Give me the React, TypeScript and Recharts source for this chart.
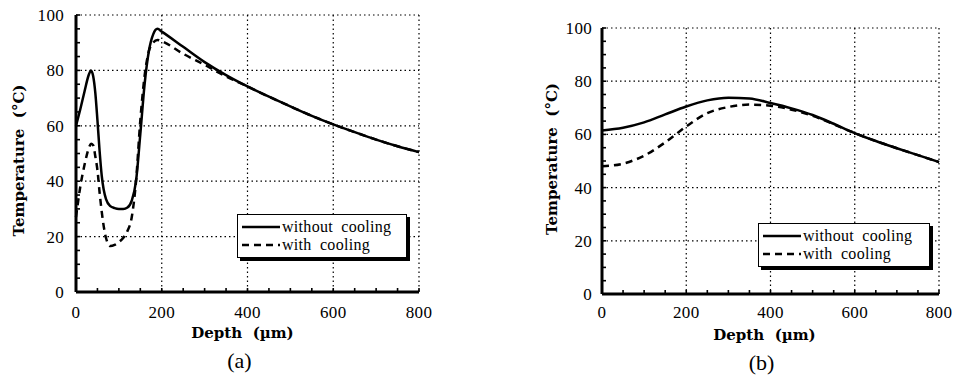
import React from 'react';
import { LineChart, Line, XAxis, YAxis, CartesianGrid, Legend, Label } from 'recharts';

// panel (a)
const aDepth = [0, 10, 20, 30, 35, 40, 45, 50, 55, 60, 70, 80, 90, 100, 110, 120, 130, 140, 150, 160, 170, 180, 190, 200, 250, 300, 350, 400, 450, 500, 550, 600, 650, 700, 750, 800];
const aWithout = [60, 66, 72.5, 78.5, 80, 78, 72, 62, 51, 42, 33.5, 31, 30.3, 30, 30, 30.5, 33, 40, 57, 75, 87, 93, 95, 94, 88.5, 83, 78.3, 74.2, 70.5, 67, 63.6, 60.5, 57.7, 55, 52.6, 50.5];
const aWith = [27, 38, 46, 52, 53.5, 53, 49, 44, 36, 29, 19.5, 16.6, 17, 18, 19.5, 22, 27, 40, 62, 78, 87, 90, 91, 90.5, 86, 82, 77.8, 74.2, 70.5, 67, 63.6, 60.5, 57.7, 55, 52.6, 50.5];

// panel (b)
const bDepth = [0, 50, 100, 150, 200, 250, 300, 350, 400, 450, 500, 550, 600, 650, 700, 750, 800];
const bWithout = [61.5, 62.5, 64.5, 67.5, 70.5, 72.8, 73.8, 73.5, 71.8, 69.8, 67.3, 64, 60.5, 57.5, 54.8, 52.2, 49.6];
const bWith = [48, 49, 52, 57, 63, 68, 70.3, 71.2, 70.8, 69.3, 67, 63.8, 60.5, 57.5, 54.8, 52.2, 49.6];

const seriesNames = ['without cooling', 'with cooling'];
const xMajor = [0, 200, 400, 600, 800];
const yMajor = [0, 20, 40, 60, 80, 100];
const xTicks = [0, 50, 100, 150, 200, 250, 300, 350, 400, 450, 500, 550, 600, 650, 700, 750, 800];
const yTicks = [0, 5, 10, 15, 20, 25, 30, 35, 40, 45, 50, 55, 60, 65, 70, 75, 80, 85, 90, 95, 100];

const SERIF = '"Liberation Serif", "Times New Roman", serif';
const TITLE = '"DejaVu Serif", "Liberation Serif", serif';

const toRows = (xs: number[], s1: number[], s2: number[]) =>
  xs.map((d, i) => ({ depth: d, without: s1[i], with: s2[i] }));

type PanelCfg = {
  left: number;
  width: number;
  margin: { top: number; right: number; left: number; bottom: number };
  yWidth: number;
  xHeight: number;
  yGap: number;
  xGap: number;
  caption: string;
  yTitleX: number;
  yTitleDy: number;
  xTitleDx: number;
  legend: { left: number; top: number; w: number; h: number; row: number; pad: number; font: number };
};

const yTick = (gap: number) => (p: any) => {
  const { x, y, payload } = p;
  const ax = x + gap;
  return (
    <g>
      <line x1={ax} x2={ax + 4} y1={y} y2={y} stroke="#000" strokeWidth={1.6} />
      {yMajor.includes(payload.value) && (
        <text x={x} y={y} dy="0.35em" textAnchor="end" fontSize={17} fill="#000" fontFamily={SERIF} letterSpacing={0.3}>
          {payload.value}
        </text>
      )}
    </g>
  );
};

const xTick = (gap: number) => (p: any) => {
  const { x, y, payload } = p;
  const ay = y - gap;
  return (
    <g>
      <line x1={x} x2={x} y1={ay} y2={ay - 4} stroke="#000" strokeWidth={1.6} />
      {xMajor.includes(payload.value) && (
        <text x={x} y={y} dy="0.7em" textAnchor="middle" fontSize={17} fill="#000" fontFamily={SERIF} letterSpacing={0.3}>
          {payload.value}
        </text>
      )}
    </g>
  );
};

const legendBox = (cfg: PanelCfg['legend']) => (props: any) => {
  const items = [...(props.payload || [])].sort(
    (a: any, b: any) => seriesNames.indexOf(a.value) - seriesNames.indexOf(b.value)
  );
  return (
    <div
      style={{
        width: cfg.w,
        height: cfg.h,
        boxSizing: 'border-box',
        border: '1.5px solid #000',
        boxShadow: '3px 3px 0 #000',
        background: '#fff',
        padding: `${cfg.pad}px 0 0 4px`,
        fontFamily: SERIF,
        fontSize: cfg.font,
        lineHeight: `${cfg.row}px`,
        color: '#000',
      }}
    >
      {items.map((item: any) => (
        <div key={item.value} style={{ display: 'flex', alignItems: 'center', height: cfg.row, whiteSpace: 'nowrap' }}>
          <svg width={38} height={6} style={{ display: 'block' }}>
            <line x1={0} x2={38} y1={3} y2={3} stroke="#000" strokeWidth={2.5} strokeDasharray={item.payload?.strokeDasharray} />
          </svg>
          <span style={{ marginLeft: 2, wordSpacing: 4, letterSpacing: 0.3 }}>{item.value}</span>
        </div>
      ))}
    </div>
  );
};

const Panel = ({ cfg, data }: { cfg: PanelCfg; data: any[] }) => (
  <div style={{ position: 'absolute', left: cfg.left, top: 0 }}>
    <LineChart width={cfg.width} height={377} data={data} margin={cfg.margin}>
      <CartesianGrid stroke="#000" strokeWidth={1.2} strokeDasharray="1.5 3" horizontalValues={yMajor} verticalValues={xMajor} />
      <XAxis
        type="number"
        dataKey="depth"
        domain={[0, 800]}
        ticks={xTicks}
        interval={0}
        tickSize={0}
        tickMargin={cfg.xGap}
        tick={xTick(cfg.xGap)}
        axisLine={{ stroke: '#000', strokeWidth: 3 }}
        height={cfg.xHeight}
      >
        <Label
          content={(p: any) => (
            <text
              x={p.viewBox.x + p.viewBox.width / 2 + cfg.xTitleDx}
              y={p.viewBox.y + 46}
              textAnchor="middle"
              fontFamily={TITLE}
              fontWeight="bold"
              fontSize={15}
              fill="#000"
              style={{ whiteSpace: 'pre' }}
            >
              {'Depth  (\u00b5m)'}
            </text>
          )}
        />
        <Label
          content={(p: any) => (
            <text
              x={p.viewBox.x + p.viewBox.width / 2 + cfg.xTitleDx - 3}
              y={p.viewBox.y + 76}
              textAnchor="middle"
              fontFamily={SERIF}
              fontSize={22}
              fill="#000"
            >
              {cfg.caption}
            </text>
          )}
        />
      </XAxis>
      <YAxis
        type="number"
        domain={[0, 100]}
        ticks={yTicks}
        interval={0}
        tickSize={0}
        tickMargin={cfg.yGap}
        tick={yTick(cfg.yGap)}
        axisLine={{ stroke: '#000', strokeWidth: 3 }}
        width={cfg.yWidth}
      >
        <Label
          content={(p: any) => {
            const cx = cfg.yTitleX;
            const cy = p.viewBox.y + p.viewBox.height / 2 + cfg.yTitleDy;
            return (
              <text
                x={cx}
                y={cy}
                transform={`rotate(-90 ${cx} ${cy})`}
                textAnchor="middle"
                dominantBaseline="central"
                fontFamily={TITLE}
                fontWeight="bold"
                fontSize={15}
                fill="#000"
                style={{ whiteSpace: 'pre' }}
              >
                {'Temperature  (\u00b0C)'}
              </text>
            );
          }}
        />
      </YAxis>
      <Legend
        layout="vertical"
        align="center"
        verticalAlign="middle"
        itemSorter={(item: any) => seriesNames.indexOf(item.value)}
        content={legendBox(cfg.legend)}
        wrapperStyle={{ left: cfg.legend.left, top: cfg.legend.top, width: cfg.legend.w, height: cfg.legend.h }}
      />
      <Line
        type="monotone"
        dataKey="without"
        name={seriesNames[0]}
        stroke="#000"
        strokeWidth={2.5}
        dot={false}
        isAnimationActive={false}
      />
      <Line
        type="monotone"
        dataKey="with"
        name={seriesNames[1]}
        stroke="#000"
        strokeWidth={2.5}
        strokeDasharray="7 5"
        dot={false}
        isAnimationActive={false}
      />
    </LineChart>
  </div>
);

const panelA: PanelCfg = {
  left: 0,
  width: 480,
  margin: { top: 15, right: 61, left: 0, bottom: 0 },
  yWidth: 76,
  xHeight: 85,
  yGap: 12,
  xGap: 14,
  caption: '(a)',
  yTitleX: 19,
  yTitleDy: 7,
  xTitleDx: -5,
  legend: { left: 237, top: 214, w: 170, h: 44, row: 18, pad: 3, font: 16 },
};

const panelB: PanelCfg = {
  left: 480,
  width: 475,
  margin: { top: 28, right: 16, left: 0, bottom: 0 },
  yWidth: 122,
  xHeight: 83,
  yGap: 10,
  xGap: 12,
  caption: '(b)',
  yTitleX: 72,
  yTitleDy: -2,
  xTitleDx: -6,
  legend: { left: 278, top: 223, w: 172, h: 44, row: 18, pad: 3, font: 16 },
};

export default function App() {
  return (
    <div style={{ position: 'absolute', left: 0, top: 0, width: 955, height: 377, background: '#fff', fontFamily: SERIF }}>
      <Panel cfg={panelA} data={toRows(aDepth, aWithout, aWith)} />
      <Panel cfg={panelB} data={toRows(bDepth, bWithout, bWith)} />
    </div>
  );
}
